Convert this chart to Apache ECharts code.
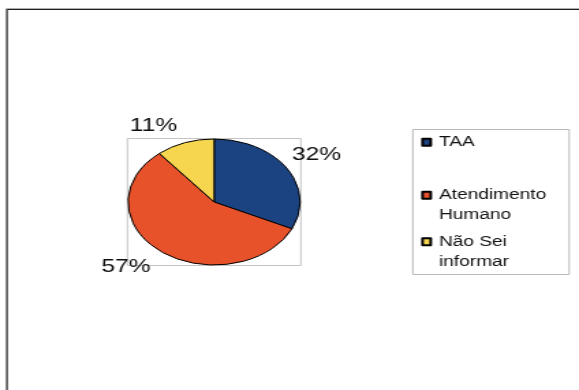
<!DOCTYPE html>
<html>
<head>
<meta charset="utf-8">
<script src="https://cdn.jsdelivr.net/npm/echarts@6/dist/echarts.min.js"></script>
<style>
  html, body { margin: 0; padding: 0; background: #ffffff; }
  #wrap { width: 579px; height: 390px; overflow: hidden; position: relative; }
  /* the chart is laid out narrow and stretched horizontally, giving the wide pie */
  #chart { width: 424px; height: 390px; transform: scaleX(1.3656); transform-origin: 0 0; }
</style>
</head>
<body>
<div id="wrap"><div id="chart"></div></div>
<script>
// Answers and their shares (%)
const categories = ['TAA', 'Atendimento Humano', 'Não Sei informar'];
const shares = [32, 57, 11];
const sliceColors = ['#1b4382', '#e8522a', '#f6d54f'];

// Pie geometry (chart units, before the horizontal stretch)
const PIE_CX = 156.8, PIE_CY = 202, PIE_R = 63, LABEL_GAP = 8, LABEL_DX = -3;

const total = shares.reduce((a, b) => a + b, 0);
let acc = 0;
const midAngles = shares.map(v => {
  const m = (acc + v / 2) / total * Math.PI * 2;
  acc += v;
  return m;
});

const FONT = '"Liberation Sans", Arial, sans-serif';

// Two-line legend names break at the middle word gap; a blank leading
// line keeps the first text line level with the colour key.
function wrapName(name) {
  const words = name.split(' ');
  if (words.length < 2) return name;
  const cut = words.length === 2 ? 1 : 2;
  return '\n' + words.slice(0, cut).join(' ') + '\n' + words.slice(cut).join(' ');
}

function legendFor(i, top) {
  return {
    data: [categories[i]],
    orient: 'vertical',
    left: 308.4,
    top: top,
    padding: 0,
    itemWidth: 6,
    itemHeight: 7,
    icon: 'rect',
    selectedMode: false,
    formatter: wrapName,
    textStyle: {
      fontFamily: FONT, fontSize: 14, lineHeight: 20, color: '#111111',
      padding: [0, 0, 4, 1]
    }
  };
}

const chart = echarts.init(document.getElementById('chart'), null, { renderer: 'canvas' });
chart.setOption({
  animation: false,
  color: sliceColors,
  legend: [
    legendFor(0, 130.2),
    legendFor(1, 163.2),
    legendFor(2, 209.8)
  ],
  graphic: [
    // outer frame with soft shadow line
    { type: 'rect', shape: { x: 4.5, y: 8.5, width: 600, height: 500 },
      style: { fill: 'none', stroke: '#b0b0b0', lineWidth: 1 }, silent: true },
    { type: 'rect', shape: { x: 5.2, y: 9.5, width: 600, height: 500 },
      style: { fill: 'none', stroke: '#1e1e1e', lineWidth: 1 }, silent: true },
    // box around the pie
    { type: 'rect', shape: { x: PIE_CX - PIE_R - 0.5, y: PIE_CY - PIE_R - 0.5, width: PIE_R * 2 + 1, height: PIE_R * 2 + 1 },
      style: { fill: 'none', stroke: '#c4c4c4', lineWidth: 1 }, silent: true, z: -1 },
    // legend box
    { type: 'rect', shape: { x: 302.3, y: 129.5, width: 114.5, height: 145 },
      style: { fill: 'none', stroke: '#b8b8b8', lineWidth: 1 }, silent: true }
  ],
  series: [{
    type: 'pie',
    center: [PIE_CX, PIE_CY],
    radius: PIE_R,
    startAngle: 90,
    clockwise: true,
    avoidLabelOverlap: false,
    emphasis: { disabled: true },
    itemStyle: { borderColor: '#000000', borderWidth: 1 },
    label: {
      show: true,
      formatter: '{c}%',
      fontFamily: FONT,
      fontSize: 18,
      color: '#0d0d0d'
    },
    labelLine: { show: false },
    labelLayout: function (p) {
      const a = midAngles[p.dataIndex];
      const s = Math.sin(a), c = Math.cos(a);
      const R = PIE_R + LABEL_GAP;
      return {
        x: PIE_CX + R * s + LABEL_DX,
        y: PIE_CY - R * c,
        align: s >= 0 ? 'left' : 'right',
        verticalAlign: c >= 0 ? 'bottom' : 'top'
      };
    },
    data: categories.map((name, i) => ({ name: name, value: shares[i] }))
  }]
});
</script>
</body>
</html>
